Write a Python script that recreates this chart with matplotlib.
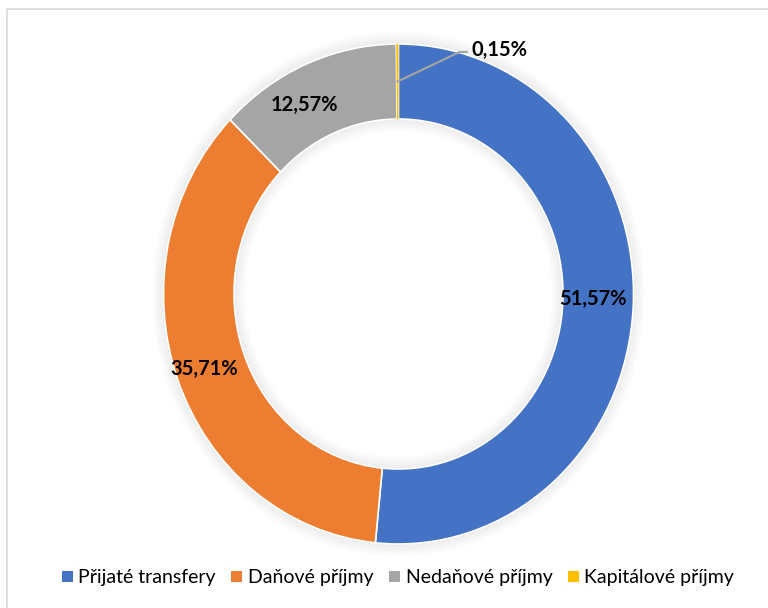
import numpy as np
import matplotlib.pyplot as plt
from matplotlib.patches import Rectangle, Patch

# podíly jednotlivých druhů příjmů (%)
kategorie = ['Přijaté transfery', 'Daňové příjmy', 'Nedaňové příjmy', 'Kapitálové příjmy']
hodnoty = [51.57, 35.71, 12.57, 0.15]
popisky = ['51,57%', '35,71%', '12,57%', '0,15%']
barvy = ['#4472C4', '#ED7D31', '#A5A5A5', '#FFC000']

plt.rcParams['font.family'] = ['Lato', 'DejaVu Sans']

fig = plt.figure(figsize=(7.68, 6.08), dpi=100)

# rámeček grafu
fig.patches.append(Rectangle((7 / 768, -0.1), 1.2, 1 - 9 / 608 + 0.1, transform=fig.transFigure,
                             fill=False, edgecolor='#D9D9D9', linewidth=1.2))

W, H = 768, 608
cx, cy, rx, ry = 398.5, 294, 235, 250
ax = fig.add_axes([(cx - rx) / W, (H - cy - ry) / H, 2 * rx / W, 2 * ry / H])

# jemný stín kolem prstence
for i in range(6):
    ax.pie([1], radius=1.0 + 0.008 * (i + 1), colors=['#808080'],
           wedgeprops=dict(width=0.30 + 0.016 * (i + 1), alpha=0.025, linewidth=0))

wedges, _ = ax.pie(hodnoty, colors=barvy, startangle=90, counterclock=False, radius=1.0,
                   wedgeprops=dict(width=0.30, edgecolor='white', linewidth=1.2))
wedges[3].set_linewidth(0)
ax.set_aspect('auto')
ax.set_xlim(-1, 1)
ax.set_ylim(-1, 1)
ax.axis('off')

# popisky hodnot
fs = 14.5
ax.text(0.828, -0.02, popisky[0], ha='center', va='center', fontsize=fs, fontweight='bold')
ax.text(-0.825, -0.30, popisky[1], ha='center', va='center', fontsize=fs, fontweight='bold')
ax.text(-0.40, 0.755, popisky[2], ha='center', va='center', fontsize=fs, fontweight='bold')

# odkazová čára pro nejmenší výseč
w = wedges[3]
uhel = np.deg2rad((w.theta1 + w.theta2) / 2)
x0, y0 = 0.85 * np.cos(uhel), 0.85 * np.sin(uhel)
ax.plot([x0, 0.26, 0.29], [y0, 0.968, 0.968], color='#A5A5A5', linewidth=1.5, clip_on=False)
ax.text(0.31, 0.975, popisky[3], ha='left', va='center', fontsize=fs, fontweight='bold')

handles = [Patch(facecolor=c, edgecolor='none') for c in barvy]
fig.legend(handles, kategorie, loc='center', bbox_to_anchor=(398 / W, 1 - 578 / H), ncol=4,
           frameon=False, fontsize=14, handlelength=0.55, handleheight=0.55,
           handletextpad=0.3, columnspacing=0.8)

fig.savefig('out.png', dpi=100)
